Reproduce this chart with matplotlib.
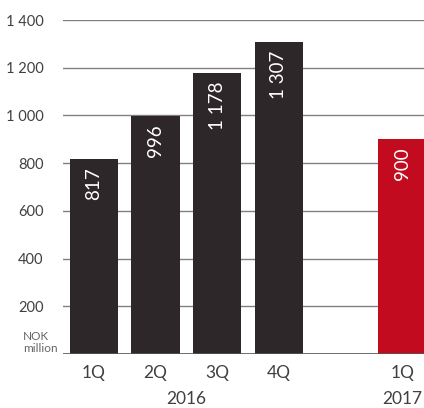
import matplotlib
matplotlib.use("Agg")
import matplotlib.pyplot as plt

categories = ["1Q", "2Q", "3Q", "4Q", "1Q"]
positions = [0, 1, 2, 3, 5]
values = [817, 996, 1178, 1307, 900]
value_labels = ["817", "996", "1 178", "1 307", "900"]
colors = ["#2e2729", "#2e2729", "#2e2729", "#2e2729", "#c20b1e"]
yticks = [200, 400, 600, 800, 1000, 1200, 1400]
ytick_labels = ["200", "400", "600", "800", "1 000", "1 200", "1 400"]
years = ["2016", "2017"]
year_pos = [1.5, 5]

plt.rcParams['font.family'] = ['Lato', 'DejaVu Sans']
text_col = "#404040"

fig = plt.figure(figsize=(4.24, 4.08), dpi=100)
ax = fig.add_axes([63/424, 1-354/408, (424-63)/424, (354-20)/408 + 0.0])
ax.set_ylim(0, 1400)
ax.set_xlim(-0.5, 5.35)

for y in yticks:
    ax.axhline(y, color="#808080", lw=1.0, zorder=0)
ax.axhline(0, color="#555555", lw=1.2, zorder=3)

bars = ax.bar(positions, values, width=0.78, color=colors, zorder=2)
for x, v, lab in zip(positions, values, value_labels):
    ax.text(x, v - 35, lab, rotation=90, ha="center", va="top",
            color="white", fontsize=13.5, zorder=4)

ax.set_yticks(yticks)
ax.set_yticklabels(ytick_labels, fontsize=10.5, color=text_col)
ax.tick_params(axis="y", length=0, pad=14)
ax.set_xticks(positions)
ax.set_xticklabels(categories, fontsize=12.5, color=text_col)
ax.tick_params(axis="x", length=0, pad=8)
for s in ax.spines.values():
    s.set_visible(False)

for yl, xp in zip(years, year_pos):
    ax.text(xp, -0.135, yl, transform=ax.get_xaxis_transform(), ha="center",
            va="center", fontsize=12.5, color=text_col)

ax.text(-0.014, 0.0, "NOK\nmillion", transform=ax.get_yaxis_transform(),
        ha="right", va="bottom", multialignment="left", fontsize=8.5,
        color="#666666", linespacing=1.1)

fig.savefig("out.png", dpi=100)
